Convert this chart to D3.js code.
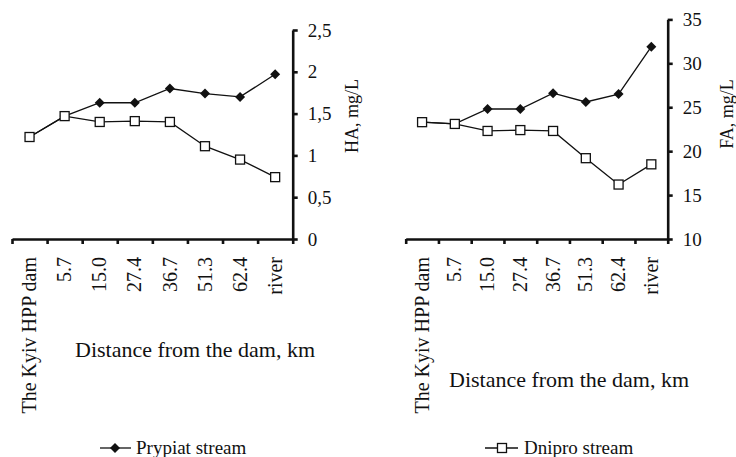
<!DOCTYPE html>
<html>
<head>
<meta charset="utf-8">
<script src="https://cdn.jsdelivr.net/npm/d3@7/dist/d3.min.js"></script>
<style>
  html, body { margin: 0; padding: 0; background: #fff; }
  svg { display: block; }
</style>
</head>
<body>
<svg id="chart" width="736" height="457"></svg>
<script>
// Sampling stations along the reservoir
const categories = ["The Kyiv HPP dam", "5.7", "15.0", "27.4", "36.7", "51.3", "62.4", "river"];

// Humic acids (HA), mg/L
const haPrypiat = [1.22, 1.47, 1.63, 1.63, 1.80, 1.74, 1.70, 1.97];
const haDnipro  = [1.22, 1.47, 1.40, 1.41, 1.40, 1.11, 0.95, 0.74];

// Fulvic acids (FA), mg/L
const faPrypiat = [23.3, 23.1, 24.8, 24.8, 26.6, 25.6, 26.5, 31.9];
const faDnipro  = [23.3, 23.1, 22.3, 22.4, 22.3, 19.2, 16.2, 18.5];

const haTicks = [0, 0.5, 1, 1.5, 2, 2.5];
const faTicks = [10, 15, 20, 25, 30, 35];

const seriesNames = ["Prypiat stream", "Dnipro stream"];
const xTitle = "Distance from the dam, km";

const FONT = "'Liberation Serif', 'Times New Roman', Times, 'DejaVu Serif', serif";
const svg = d3.select("#chart");
const ink = "#111";

function diamondPath(r) {
  return `M0,${-r}L${r},0L0,${r}L${-r},0Z`;
}

function label(sel, size) {
  return sel.attr("font-family", FONT).style("font-family", FONT)
    .attr("font-size", size).attr("fill", ink);
}

function panel(opts) {
  const g = svg.append("g");
  const x = d3.scaleBand().domain(categories).range([opts.x0, opts.x1]).paddingInner(0).paddingOuter(0);
  const xEdge = d3.scaleLinear().domain([0, categories.length]).range([opts.x0, opts.x1]);
  const y = d3.scaleLinear().domain(opts.yDomain).range([opts.yBottom, opts.yTop]);
  const cx = c => x(c) + x.bandwidth() / 2;

  // x axis: ticks on station boundaries
  const xa = g.append("g").attr("transform", `translate(0,${opts.yBottom})`)
    .call(d3.axisBottom(xEdge).tickValues(d3.range(categories.length + 1)).tickSize(5).tickSizeOuter(0).tickFormat(""));
  xa.select(".domain").attr("stroke", ink).attr("stroke-width", 2.6);
  xa.selectAll(".tick line").attr("stroke", ink).attr("stroke-width", 2.6);

  // station labels, rotated
  g.selectAll(".xl").data(categories).enter().append("text")
    .attr("transform", d => `translate(${cx(d)},${opts.yBottom + 18}) rotate(-90)`)
    .attr("text-anchor", "end")
    .attr("dy", "0.33em")
    .call(label, 20)
    .text(d => d);

  // y axis on the right
  const ya = g.append("g").attr("transform", `translate(${opts.x1},0)`)
    .call(d3.axisRight(y).tickValues(opts.ticks).tickSize(5).tickSizeOuter(0)
      .tickFormat(d => String(d).replace(".", ",")));
  ya.attr("font-family", FONT);
  ya.select(".domain").attr("stroke", ink).attr("stroke-width", 2.6);
  ya.selectAll(".tick line").attr("stroke", ink).attr("stroke-width", 2.6);
  ya.selectAll(".tick text").attr("x", 15).attr("dy", "0.32em").call(label, 19);

  // y axis title
  g.append("text")
    .attr("transform", `translate(${opts.yTitleX},${opts.yTitleY}) rotate(-90)`)
    .attr("text-anchor", "middle")
    .attr("dy", "0.35em")
    .call(label, 18)
    .text(opts.yTitle);

  // x axis title
  g.append("text")
    .attr("x", opts.xTitleX).attr("y", opts.xTitleY)
    .call(label, 22)
    .text(xTitle);

  const line = d3.line().x((d, i) => cx(categories[i])).y(d => y(d));

  // Prypiat: filled diamonds
  g.append("path").datum(opts.prypiat).attr("d", line)
    .attr("fill", "none").attr("stroke", ink).attr("stroke-width", 1.3);
  g.selectAll(".dm").data(opts.prypiat).enter().append("path")
    .attr("d", diamondPath(5))
    .attr("transform", (d, i) => `translate(${cx(categories[i])},${y(d)})`)
    .attr("fill", ink);

  // Dnipro: open squares
  g.append("path").datum(opts.dnipro).attr("d", line)
    .attr("fill", "none").attr("stroke", ink).attr("stroke-width", 1.3);
  g.selectAll(".sq").data(opts.dnipro).enter().append("rect")
    .attr("x", (d, i) => cx(categories[i]) - 4.5)
    .attr("y", d => y(d) - 4.5)
    .attr("width", 9).attr("height", 9)
    .attr("fill", "#fff").attr("stroke", ink).attr("stroke-width", 1.3);
}

panel({
  x0: 12, x1: 292.7, yBottom: 239, yTop: 30,
  yDomain: [0, 2.5], ticks: haTicks,
  yTitle: "HA, mg/L", yTitleX: 352, yTitleY: 116,
  xTitleX: 75, xTitleY: 357,
  prypiat: haPrypiat, dnipro: haDnipro
});

panel({
  x0: 405.7, x1: 667.7, yBottom: 239, yTop: 19.4,
  yDomain: [10, 35], ticks: faTicks,
  yTitle: "FA, mg/L", yTitleX: 727, yTitleY: 114,
  xTitleX: 449, xTitleY: 387,
  prypiat: faPrypiat, dnipro: faDnipro
});

// legend
const lg = svg.append("g");
const legendY = 448;
// Prypiat entry
lg.append("line").attr("x1", 100).attr("x2", 131).attr("y1", legendY).attr("y2", legendY)
  .attr("stroke", ink).attr("stroke-width", 1.3);
lg.append("path").attr("d", diamondPath(5)).attr("transform", `translate(115,${legendY})`).attr("fill", ink);
lg.append("text").attr("x", 136).attr("y", legendY).attr("dy", "0.33em")
  .call(label, 19).text(seriesNames[0]);
// Dnipro entry
lg.append("line").attr("x1", 485).attr("x2", 518).attr("y1", legendY).attr("y2", legendY)
  .attr("stroke", ink).attr("stroke-width", 1.3);
lg.append("rect").attr("x", 502 - 4.5).attr("y", legendY - 4.5).attr("width", 9).attr("height", 9)
  .attr("fill", "#fff").attr("stroke", ink).attr("stroke-width", 1.3);
lg.append("text").attr("x", 524).attr("y", legendY).attr("dy", "0.33em")
  .call(label, 19).text(seriesNames[1]);
</script>
</body>
</html>
